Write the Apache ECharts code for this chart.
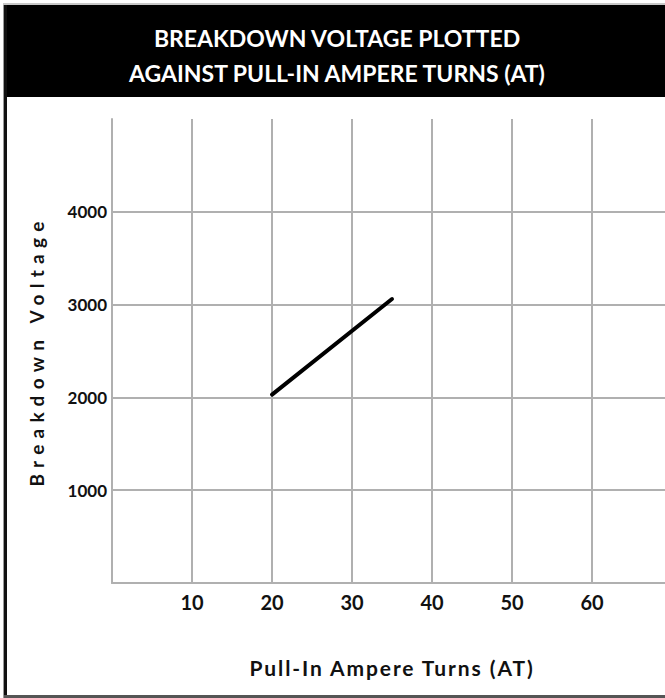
<!DOCTYPE html>
<html><head><meta charset="utf-8">
<script src="https://cdn.jsdelivr.net/npm/echarts@6/dist/echarts.min.js"></script>
<style>html,body{margin:0;padding:0;background:#fff;overflow:hidden}#c{width:665px;height:698px}</style>
</head><body><div id="c"></div>
<script>
// ---- data ----
const titleLines = ['BREAKDOWN VOLTAGE PLOTTED', 'AGAINST PULL-IN AMPERE TURNS (AT)'];
const xName = 'Pull-In Ampere Turns (AT)';
const yName = 'Breakdown Voltage';
const xTicks = [0, 10, 20, 30, 40, 50, 60, 70];
const yTicks = [0, 1000, 2000, 3000, 4000, 5000];
const ampereTurns = [20, 35];
const breakdownVoltage = [2030, 3060];

// ---- chart ----
const FONT = 'Lato';
const GRID = '#b0b0b0';
const chart = echarts.init(document.getElementById('c'), null, {renderer: 'svg'});
const option = {
  animation: false,
  backgroundColor: '#fff',
  title: {
    text: titleLines.join('\n'),
    left: 337,
    textAlign: 'center',
    top: 20,
    padding: 0,
    textStyle: {color: '#fff', fontFamily: FONT, fontWeight: 'bold', fontSize: 23, lineHeight: 35}
  },
  graphic: [
    {type: 'rect', shape: {x: 3, y: 3, width: 670, height: 2}, style: {fill: '#c8c8c8'}, z: 1},
    {type: 'rect', shape: {x: 4, y: 5, width: 670, height: 92}, style: {fill: '#000'}, z: 1},
    {type: 'rect', shape: {x: 3, y: 5, width: 1, height: 693}, style: {fill: '#9a9a9a'}, z: 1},
    {type: 'rect', shape: {x: 4, y: 5, width: 3, height: 693}, style: {fill: '#111'}, z: 1},
    {type: 'rect', shape: {x: 4, y: 695, width: 670, height: 3}, style: {fill: '#555'}, z: 1}
  ],
  grid: {left: 112, top: 119, bottom: 115, right: -7, outerBoundsMode: 'none', containLabel: false},
  xAxis: {
    type: 'value',
    min: xTicks[0], max: xTicks[xTicks.length - 1], interval: xTicks[1] - xTicks[0],
    name: xName, nameLocation: 'middle', nameGap: 74,
    nameTextStyle: {color: '#111', fontFamily: FONT, fontWeight: 'bold', fontSize: 21},
    axisLine: {show: true, onZero: false, lineStyle: {color: GRID, width: 2}},
    axisTick: {show: false},
    axisLabel: {showMinLabel: false, showMaxLabel: false, margin: 9, color: '#111', fontFamily: FONT, fontWeight: 'bold', fontSize: 20,
      formatter: v => String(v)},
    splitLine: {show: true, showMinLine: false, showMaxLine: true, lineStyle: {color: GRID, width: 2}}
  },
  yAxis: {
    type: 'value',
    min: yTicks[0], max: yTicks[yTicks.length - 1], interval: yTicks[1] - yTicks[0],
    name: yName, nameLocation: 'middle', nameGap: 66, nameRotate: 90,
    nameTextStyle: {color: '#111', fontFamily: FONT, fontWeight: 'bold', fontSize: 19},
    axisLine: {show: true, onZero: false, lineStyle: {color: GRID, width: 2}},
    axisTick: {show: false},
    axisLabel: {showMinLabel: false, showMaxLabel: false, margin: 5, padding: [0, 0, 10, 0], color: '#111', fontFamily: FONT, fontWeight: 'bold', fontSize: 17,
      formatter: v => String(v)},
    splitLine: {show: true, showMinLine: false, showMaxLine: false, lineStyle: {color: GRID, width: 2}}
  },
  series: [{
    type: 'line',
    data: ampereTurns.map((x, i) => [x, breakdownVoltage[i]]),
    showSymbol: false,
    lineStyle: {color: '#000', width: 4, cap: 'round'},
    z: 5
  }]
};
chart.setOption(option);

function tweak() {
  document.querySelectorAll('#c svg text').forEach(t => {
    if (t.textContent === yName) t.setAttribute('letter-spacing', '6.3px');
    if (t.textContent === xName) t.setAttribute('letter-spacing', '1.9px');
  });
}
tweak();
chart.on('finished', tweak);
setTimeout(tweak, 50);
</script>
</body></html>
